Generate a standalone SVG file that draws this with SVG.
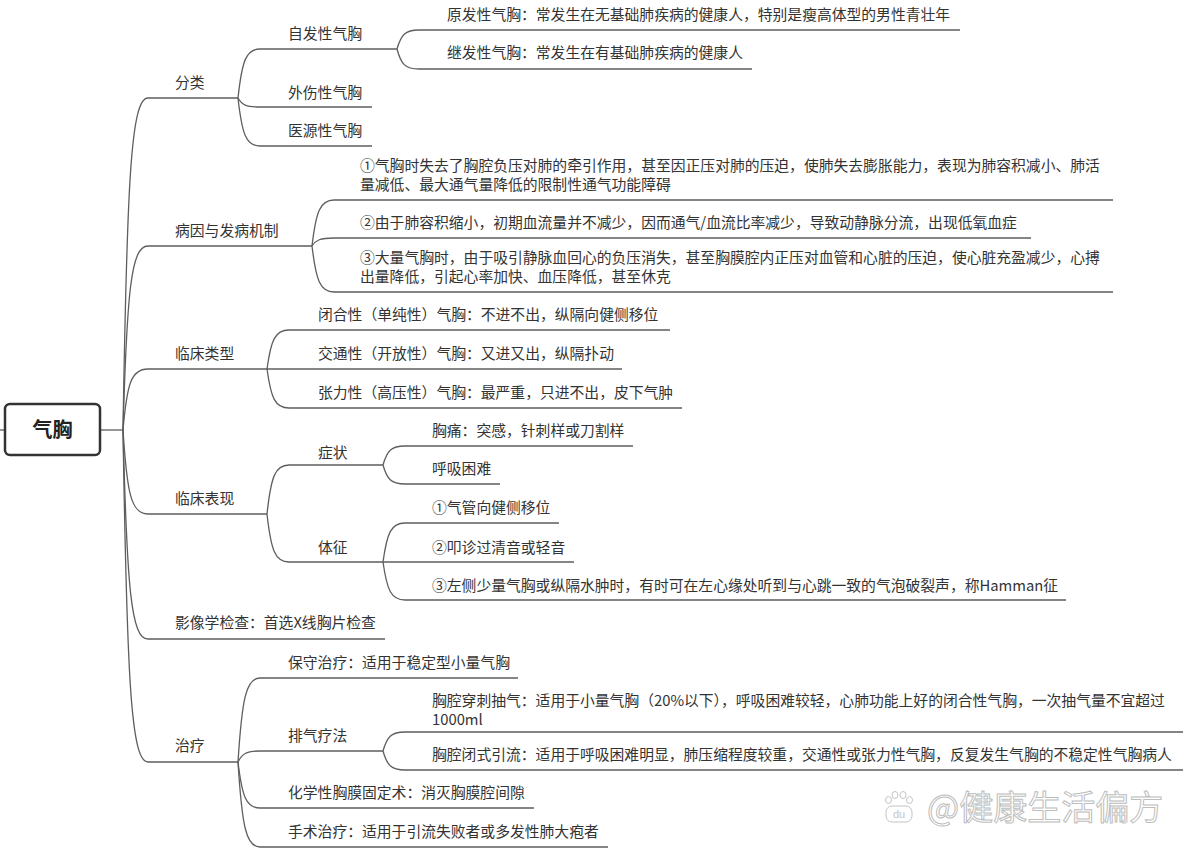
<svg xmlns="http://www.w3.org/2000/svg" width="1200" height="855" viewBox="0 0 1200 855">
<style>
.t{font-family:"Noto Sans CJK SC","Noto Sans",sans-serif;font-size:14.8px;fill:#333}
.rt{font-family:"Noto Sans CJK SC","Noto Sans",sans-serif;font-size:20px;font-weight:bold;fill:#222}
.ln{fill:none;stroke:#5e5e5e;stroke-width:1.3}
.wm{font-family:"Noto Sans CJK SC","Noto Sans",sans-serif;font-size:34px;fill:#fff;stroke:#bdbdbd;stroke-width:1}
</style>
<rect width="1200" height="855" fill="#fff"/>
<g id="connectors" class="ln">
<path d="M0,430 L5,430"/>
<path d="M100,430 L123,430"/>
<path d="M123,430 C127,181 131,98 148,98 L238,98"/>
<path d="M123,430 C127,292 131,246 148,246 L312,246"/>
<path d="M123,430 C127,384 131,369 148,369 L267,369"/>
<path d="M123,430 C127,493 131,514 148,514 L267,514"/>
<path d="M123,430 C127,587 131,639 148,639 L385,639"/>
<path d="M123,430 C127,679 131,762 148,762 L238,762"/>
<path d="M238,98 C242,61 246,49 260,49 L397,49"/>
<path d="M238,98 C242,105 246,107 260,107 L372,107"/>
<path d="M238,98 C242,134 246,146 260,146 L372,146"/>
<path d="M397,49 C401,35 405,30 419,30 L960,30"/>
<path d="M397,49 C401,64 405,69 419,69 L752,69"/>
<path d="M312,246 C316,212 320,200 334,200 L1113,200"/>
<path d="M312,246 C316,240 320,238 334,238 L1031,238"/>
<path d="M312,246 C316,280 320,292 334,292 L1113,292"/>
<path d="M267,369 C271,340 275,330 289,330 L670,330"/>
<path d="M267,369 L622,369"/>
<path d="M267,369 C271,398 275,408 289,408 L682,408"/>
<path d="M267,514 C271,477 275,465 289,465 L383,465"/>
<path d="M267,514 C271,550 275,562 289,562 L383,562"/>
<path d="M383,465 C387,451 391,446 405,446 L633,446"/>
<path d="M383,465 C387,479 391,484 405,484 L500,484"/>
<path d="M383,562 C387,533 391,523 405,523 L559,523"/>
<path d="M383,562 L574,562"/>
<path d="M383,562 C387,590 391,600 405,600 L1066,600"/>
<path d="M238,762 C242,699 246,678 260,678 L518,678"/>
<path d="M238,762 C242,754 246,751 260,751 L383,751"/>
<path d="M238,762 C242,796 246,808 260,808 L534,808"/>
<path d="M238,762 C242,826 246,847 260,847 L608,847"/>
<path d="M383,751 C387,737 391,732 405,732 L1183,732"/>
<path d="M383,751 C387,765 391,770 405,770 L1183,770"/>
</g>
<g id="root">
<rect x="5" y="404" width="95" height="51" rx="5" fill="#fff" stroke="#333" stroke-width="2.5"/>
<text class="rt" x="52.5" y="437" text-anchor="middle">气胸</text>
</g>
<g id="n-fenlei"><text class="t" x="175" y="88">分类</text></g>
<g id="n-zifa"><text class="t" x="288" y="39">自发性气胸</text></g>
<g id="n-yuanfa"><text class="t" x="447" y="20">原发性气胸：常发生在无基础肺疾病的健康人，特别是瘦高体型的男性青壮年</text></g>
<g id="n-jifa"><text class="t" x="447" y="58">继发性气胸：常发生在有基础肺疾病的健康人</text></g>
<g id="n-waishang"><text class="t" x="288" y="97.5">外伤性气胸</text></g>
<g id="n-yiyuan"><text class="t" x="288" y="136">医源性气胸</text></g>
<g id="n-bingyin"><text class="t" x="175" y="236">病因与发病机制</text></g>
<g id="n-by1"><text class="t" x="360" y="171">①气胸时失去了胸腔负压对肺的牵引作用，甚至因正压对肺的压迫，使肺失去膨胀能力，表现为肺容积减小、肺活</text><text class="t" x="360" y="190">量减低、最大通气量降低的限制性通气功能障碍</text></g>
<g id="n-by2"><text class="t" x="360" y="228">②由于肺容积缩小，初期血流量并不减少，因而通气/血流比率减少，导致动静脉分流，出现低氧血症</text></g>
<g id="n-by3"><text class="t" x="360" y="263">③大量气胸时，由于吸引静脉血回心的负压消失，甚至胸膜腔内正压对血管和心脏的压迫，使心脏充盈减少，心搏</text><text class="t" x="360" y="282">出量降低，引起心率加快、血压降低，甚至休克</text></g>
<g id="n-leixing"><text class="t" x="175" y="358.5">临床类型</text></g>
<g id="n-bihe"><text class="t" x="318" y="319.5">闭合性（单纯性）气胸：不进不出，纵隔向健侧移位</text></g>
<g id="n-jiaotong"><text class="t" x="318" y="358.5">交通性（开放性）气胸：又进又出，纵隔扑动</text></g>
<g id="n-zhangli"><text class="t" x="318" y="397.5">张力性（高压性）气胸：最严重，只进不出，皮下气肿</text></g>
<g id="n-biaoxian"><text class="t" x="175" y="503.5">临床表现</text></g>
<g id="n-zhengzhuang"><text class="t" x="318" y="457.5">症状</text></g>
<g id="n-xiongtong"><text class="t" x="432" y="435.5">胸痛：突感，针刺样或刀割样</text></g>
<g id="n-huxi"><text class="t" x="432" y="473.5">呼吸困难</text></g>
<g id="n-tizheng"><text class="t" x="318" y="552.5">体征</text></g>
<g id="n-tz1"><text class="t" x="432" y="512.5">①气管向健侧移位</text></g>
<g id="n-tz2"><text class="t" x="432" y="552.5">②叩诊过清音或轻音</text></g>
<g id="n-tz3"><text class="t" x="432" y="590.5">③左侧少量气胸或纵隔水肿时，有时可在左心缘处听到与心跳一致的气泡破裂声，称Hamman征</text></g>
<g id="n-yingxiang"><text class="t" x="175" y="627.5">影像学检查：首选X线胸片检查</text></g>
<g id="n-zhiliao"><text class="t" x="175" y="750.5">治疗</text></g>
<g id="n-baoshou"><text class="t" x="288" y="667.5">保守治疗：适用于稳定型小量气胸</text></g>
<g id="n-paiqi"><text class="t" x="288" y="740.5">排气疗法</text></g>
<g id="n-chuanci"><text class="t" x="432" y="705.5">胸腔穿刺抽气：适用于小量气胸（20%以下），呼吸困难较轻，心肺功能上好的闭合性气胸，一次抽气量不宜超过</text><text class="t" x="432" y="724.5">1000ml</text></g>
<g id="n-bishi"><text class="t" x="432" y="759.5">胸腔闭式引流：适用于呼吸困难明显，肺压缩程度较重，交通性或张力性气胸，反复发生气胸的不稳定性气胸病人</text></g>
<g id="n-huaxue"><text class="t" x="288" y="797.5">化学性胸膜固定术：消灭胸膜腔间隙</text></g>
<g id="n-shoushu"><text class="t" x="288" y="836.5">手术治疗：适用于引流失败者或多发性肺大疱者</text></g>
<g id="watermark">
<g fill="#fff" stroke="#c4c4c4" stroke-width="1">
<ellipse cx="888.5" cy="800" rx="3" ry="3.5"/>
<ellipse cx="895" cy="795" rx="3" ry="3.5"/>
<ellipse cx="903" cy="795" rx="3" ry="3.5"/>
<ellipse cx="909.5" cy="800" rx="3" ry="3.5"/>
<rect x="886" y="806" width="26" height="16" rx="6"/>
</g>
<text x="899" y="818" text-anchor="middle" font-family="'Liberation Sans',sans-serif" font-size="11" fill="#c4c4c4">du</text>
<text class="wm" x="927" y="820">@健康生活偏方</text>
</g>
</svg>
